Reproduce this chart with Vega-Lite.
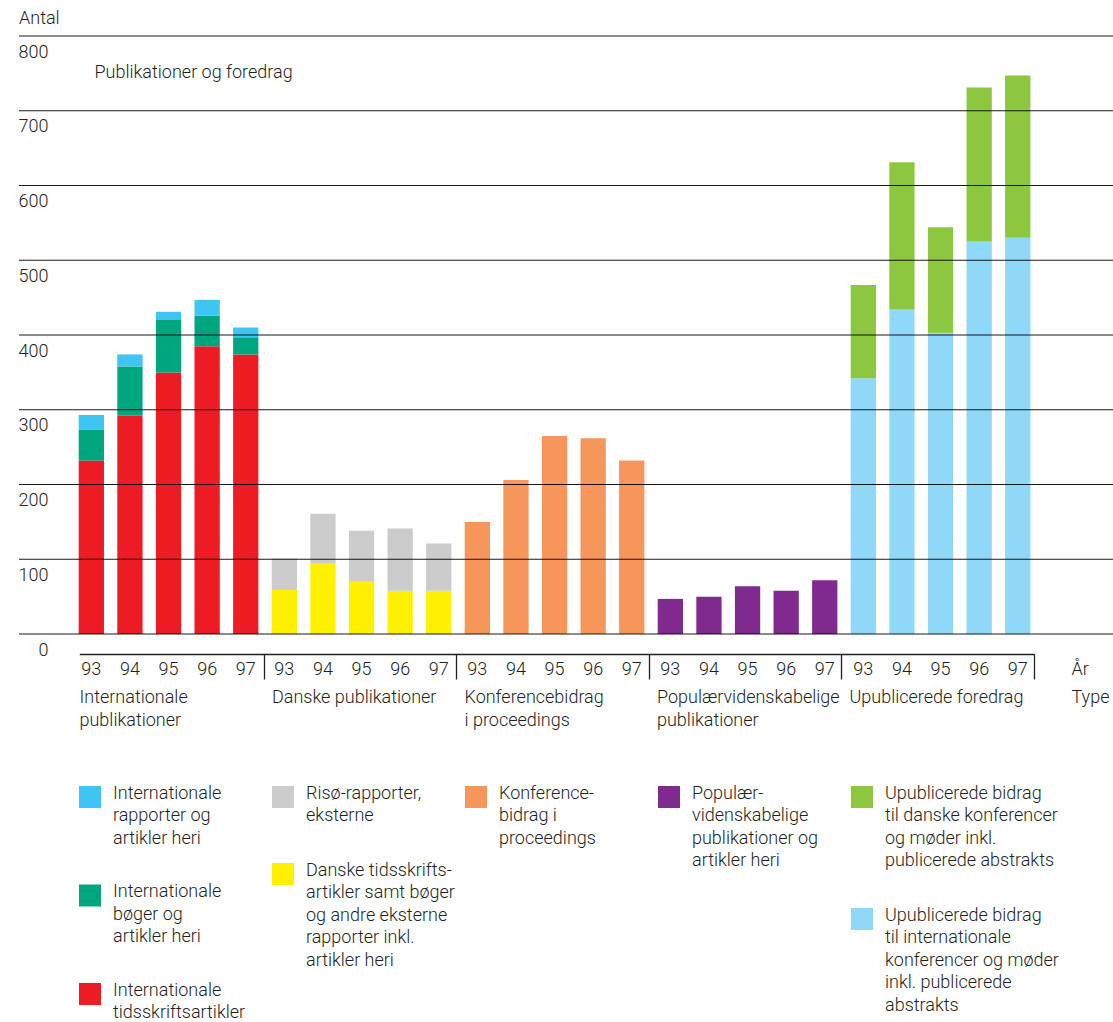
{
  "$schema": "https://vega.github.io/schema/vega-lite/v6.json",
  "padding": {"left": 18, "top": 9, "right": 0, "bottom": 0},
  "bounds": "flush",
  "spacing": 163,
  "config": {
    "font": "Roboto",
    "view": {"stroke": null},
    "axis": {"labelFont": "Roboto", "titleFont": "Roboto", "labelFontSize": 18, "titleFontSize": 18, "labelFontWeight": 300, "titleFontWeight": 300, "labelColor": "#231f20", "titleColor": "#231f20"},
    "text": {"font": "Roboto", "fontSize": 18, "fontWeight": 300, "color": "#231f20"}
  },
  "datasets": {
    "bars": [
      {"gruppe": "Internationale\npublikationer", "aar": "93", "serie": "Internationale tidsskriftsartikler", "nr": 1, "antal": 232},
      {"gruppe": "Internationale\npublikationer", "aar": "93", "serie": "Internationale bøger og artikler heri", "nr": 2, "antal": 41},
      {"gruppe": "Internationale\npublikationer", "aar": "93", "serie": "Internationale rapporter og artikler heri", "nr": 3, "antal": 20},
      {"gruppe": "Internationale\npublikationer", "aar": "94", "serie": "Internationale tidsskriftsartikler", "nr": 1, "antal": 292},
      {"gruppe": "Internationale\npublikationer", "aar": "94", "serie": "Internationale bøger og artikler heri", "nr": 2, "antal": 66},
      {"gruppe": "Internationale\npublikationer", "aar": "94", "serie": "Internationale rapporter og artikler heri", "nr": 3, "antal": 16},
      {"gruppe": "Internationale\npublikationer", "aar": "95", "serie": "Internationale tidsskriftsartikler", "nr": 1, "antal": 350},
      {"gruppe": "Internationale\npublikationer", "aar": "95", "serie": "Internationale bøger og artikler heri", "nr": 2, "antal": 70},
      {"gruppe": "Internationale\npublikationer", "aar": "95", "serie": "Internationale rapporter og artikler heri", "nr": 3, "antal": 11},
      {"gruppe": "Internationale\npublikationer", "aar": "96", "serie": "Internationale tidsskriftsartikler", "nr": 1, "antal": 385},
      {"gruppe": "Internationale\npublikationer", "aar": "96", "serie": "Internationale bøger og artikler heri", "nr": 2, "antal": 41},
      {"gruppe": "Internationale\npublikationer", "aar": "96", "serie": "Internationale rapporter og artikler heri", "nr": 3, "antal": 21},
      {"gruppe": "Internationale\npublikationer", "aar": "97", "serie": "Internationale tidsskriftsartikler", "nr": 1, "antal": 374},
      {"gruppe": "Internationale\npublikationer", "aar": "97", "serie": "Internationale bøger og artikler heri", "nr": 2, "antal": 23},
      {"gruppe": "Internationale\npublikationer", "aar": "97", "serie": "Internationale rapporter og artikler heri", "nr": 3, "antal": 13},
      {"gruppe": "Danske publikationer", "aar": "93", "serie": "Danske tidsskriftsartikler samt bøger og andre eksterne rapporter inkl. artikler heri", "nr": 1, "antal": 59},
      {"gruppe": "Danske publikationer", "aar": "93", "serie": "Risø-rapporter, eksterne", "nr": 2, "antal": 42},
      {"gruppe": "Danske publikationer", "aar": "94", "serie": "Danske tidsskriftsartikler samt bøger og andre eksterne rapporter inkl. artikler heri", "nr": 1, "antal": 95},
      {"gruppe": "Danske publikationer", "aar": "94", "serie": "Risø-rapporter, eksterne", "nr": 2, "antal": 66},
      {"gruppe": "Danske publikationer", "aar": "95", "serie": "Danske tidsskriftsartikler samt bøger og andre eksterne rapporter inkl. artikler heri", "nr": 1, "antal": 70},
      {"gruppe": "Danske publikationer", "aar": "95", "serie": "Risø-rapporter, eksterne", "nr": 2, "antal": 68},
      {"gruppe": "Danske publikationer", "aar": "96", "serie": "Danske tidsskriftsartikler samt bøger og andre eksterne rapporter inkl. artikler heri", "nr": 1, "antal": 58},
      {"gruppe": "Danske publikationer", "aar": "96", "serie": "Risø-rapporter, eksterne", "nr": 2, "antal": 83},
      {"gruppe": "Danske publikationer", "aar": "97", "serie": "Danske tidsskriftsartikler samt bøger og andre eksterne rapporter inkl. artikler heri", "nr": 1, "antal": 58},
      {"gruppe": "Danske publikationer", "aar": "97", "serie": "Risø-rapporter, eksterne", "nr": 2, "antal": 63},
      {"gruppe": "Konferencebidrag\ni proceedings", "aar": "93", "serie": "Konferencebidrag i proceedings", "nr": 1, "antal": 150},
      {"gruppe": "Konferencebidrag\ni proceedings", "aar": "94", "serie": "Konferencebidrag i proceedings", "nr": 1, "antal": 206},
      {"gruppe": "Konferencebidrag\ni proceedings", "aar": "95", "serie": "Konferencebidrag i proceedings", "nr": 1, "antal": 265},
      {"gruppe": "Konferencebidrag\ni proceedings", "aar": "96", "serie": "Konferencebidrag i proceedings", "nr": 1, "antal": 262},
      {"gruppe": "Konferencebidrag\ni proceedings", "aar": "97", "serie": "Konferencebidrag i proceedings", "nr": 1, "antal": 232},
      {"gruppe": "Populærvidenskabelige\npublikationer", "aar": "93", "serie": "Populærvidenskabelige publikationer og artikler heri", "nr": 1, "antal": 47},
      {"gruppe": "Populærvidenskabelige\npublikationer", "aar": "94", "serie": "Populærvidenskabelige publikationer og artikler heri", "nr": 1, "antal": 50},
      {"gruppe": "Populærvidenskabelige\npublikationer", "aar": "95", "serie": "Populærvidenskabelige publikationer og artikler heri", "nr": 1, "antal": 64},
      {"gruppe": "Populærvidenskabelige\npublikationer", "aar": "96", "serie": "Populærvidenskabelige publikationer og artikler heri", "nr": 1, "antal": 58},
      {"gruppe": "Populærvidenskabelige\npublikationer", "aar": "97", "serie": "Populærvidenskabelige publikationer og artikler heri", "nr": 1, "antal": 72},
      {"gruppe": "Upublicerede foredrag", "aar": "93", "serie": "Upublicerede bidrag til internationale konferencer og møder inkl. publicerede abstrakts", "nr": 1, "antal": 342},
      {"gruppe": "Upublicerede foredrag", "aar": "93", "serie": "Upublicerede bidrag til danske konferencer og møder inkl. publicerede abstrakts", "nr": 2, "antal": 125},
      {"gruppe": "Upublicerede foredrag", "aar": "94", "serie": "Upublicerede bidrag til internationale konferencer og møder inkl. publicerede abstrakts", "nr": 1, "antal": 434},
      {"gruppe": "Upublicerede foredrag", "aar": "94", "serie": "Upublicerede bidrag til danske konferencer og møder inkl. publicerede abstrakts", "nr": 2, "antal": 197},
      {"gruppe": "Upublicerede foredrag", "aar": "95", "serie": "Upublicerede bidrag til internationale konferencer og møder inkl. publicerede abstrakts", "nr": 1, "antal": 403},
      {"gruppe": "Upublicerede foredrag", "aar": "95", "serie": "Upublicerede bidrag til danske konferencer og møder inkl. publicerede abstrakts", "nr": 2, "antal": 141},
      {"gruppe": "Upublicerede foredrag", "aar": "96", "serie": "Upublicerede bidrag til internationale konferencer og møder inkl. publicerede abstrakts", "nr": 1, "antal": 525},
      {"gruppe": "Upublicerede foredrag", "aar": "96", "serie": "Upublicerede bidrag til danske konferencer og møder inkl. publicerede abstrakts", "nr": 2, "antal": 206},
      {"gruppe": "Upublicerede foredrag", "aar": "97", "serie": "Upublicerede bidrag til internationale konferencer og møder inkl. publicerede abstrakts", "nr": 1, "antal": 530},
      {"gruppe": "Upublicerede foredrag", "aar": "97", "serie": "Upublicerede bidrag til danske konferencer og møder inkl. publicerede abstrakts", "nr": 2, "antal": 217}
    ],
    "gitter": [
      {"antal": 0}, {"antal": 100}, {"antal": 200}, {"antal": 300}, {"antal": 400}, {"antal": 500}, {"antal": 600}, {"antal": 700}, {"antal": 800}
    ],
    "legend": [
      {"kolonne": 1, "plads": 1, "serie": "Internationale rapporter og artikler heri", "tekst": "Internationale\nrapporter og\nartikler heri"},
      {"kolonne": 1, "plads": 2, "serie": "Internationale bøger og artikler heri", "tekst": "Internationale\nbøger og\nartikler heri"},
      {"kolonne": 1, "plads": 3, "serie": "Internationale tidsskriftsartikler", "tekst": "Internationale\ntidsskriftsartikler"},
      {"kolonne": 2, "plads": 1, "serie": "Risø-rapporter, eksterne", "tekst": "Risø-rapporter,\neksterne"},
      {"kolonne": 2, "plads": 2, "serie": "Danske tidsskriftsartikler samt bøger og andre eksterne rapporter inkl. artikler heri", "tekst": "Danske tidsskrifts-\nartikler samt bøger\nog andre eksterne\nrapporter inkl.\nartikler heri"},
      {"kolonne": 3, "plads": 1, "serie": "Konferencebidrag i proceedings", "tekst": "Konference-\nbidrag i\nproceedings"},
      {"kolonne": 4, "plads": 1, "serie": "Populærvidenskabelige publikationer og artikler heri", "tekst": "Populær-\nvidenskabelige\npublikationer og\nartikler heri"},
      {"kolonne": 5, "plads": 1, "serie": "Upublicerede bidrag til danske konferencer og møder inkl. publicerede abstrakts", "tekst": "Upublicerede bidrag\ntil danske konferencer\nog møder inkl.\npublicerede abstrakts"},
      {"kolonne": 5, "plads": 2, "serie": "Upublicerede bidrag til internationale konferencer og møder inkl. publicerede abstrakts", "tekst": "Upublicerede bidrag\ntil internationale\nkonferencer og møder\ninkl. publicerede\nabstrakts"}
    ]
  },
  "vconcat": [
    {
      "width": 1095,
      "height": 598,
      "title": {"text": "Antal", "anchor": "start", "frame": "group", "offset": -6.2, "baseline": "alphabetic", "fontSize": 18, "fontWeight": 300, "color": "#231f20", "font": "Roboto"},
      "layer": [
        {
          "data": {"name": "bars"},
          "transform": [{"calculate": "datum.gruppe + '|' + datum.aar", "as": "key"}],
          "mark": {"type": "bar"},
          "encoding": {
            "x": {
              "field": "key", "type": "nominal", "sort": null,
              "scale": {"range": [59.7, 1011.4], "paddingInner": 0.345, "paddingOuter": 0, "round": false},
              "axis": {"orient": "bottom", "labelExpr": "split(datum.label, '|')[1]", "domain": false, "ticks": false, "tickSize": 0, "grid": false, "labelAngle": 0, "labelBaseline": "alphabetic", "labelPadding": 40, "labelOverlap": false, "labelLimit": 0, "title": "År", "titleX": 1052, "titleY": 40, "titleAlign": "left", "titleBaseline": "alphabetic", "titleAngle": 0}
            },
            "y": {
              "field": "antal", "type": "quantitative", "stack": "zero",
              "scale": {"domain": [0, 800], "nice": false},
              "axis": {"values": [0, 100, 200, 300, 400, 500, 600, 700, 800], "grid": false, "domain": false, "ticks": false, "tickSize": 0, "labelAlign": "right", "labelBaseline": "middle", "labelPadding": -29, "labelOffset": 16, "labelFlush": false, "labelOverlap": false, "title": "Publikationer og foredrag", "titleAngle": 0, "titleX": 75, "titleY": 36, "titleAlign": "left", "titleBaseline": "middle"}
            },
            "color": {
              "field": "serie", "type": "nominal", "legend": null,
              "scale": {
                "domain": ["Internationale rapporter og artikler heri", "Internationale bøger og artikler heri", "Internationale tidsskriftsartikler", "Risø-rapporter, eksterne", "Danske tidsskriftsartikler samt bøger og andre eksterne rapporter inkl. artikler heri", "Konferencebidrag i proceedings", "Populærvidenskabelige publikationer og artikler heri", "Upublicerede bidrag til danske konferencer og møder inkl. publicerede abstrakts", "Upublicerede bidrag til internationale konferencer og møder inkl. publicerede abstrakts"],
                "range": ["#3fc5f3", "#00a67e", "#ed1c24", "#cccccc", "#fff100", "#f7965a", "#80298f", "#8dc63f", "#8fd8f7"]
              }
            },
            "order": {"field": "nr", "type": "quantitative"}
          }
        },
        {
          "data": {"name": "gitter"},
          "mark": {"type": "rule", "color": "#000000", "strokeWidth": 1.2, "opacity": 0.9},
          "encoding": {"y": {"field": "antal", "type": "quantitative"}}
        },
        {
          "data": {"name": "bars"},
          "mark": {"type": "rule", "opacity": 0},
          "encoding": {
            "x": {
              "field": "gruppe", "type": "nominal", "sort": null,
              "scale": {"range": [60.3, 1015.3], "paddingInner": 0.039, "paddingOuter": 0, "round": false},
              "axis": {"orient": "bottom", "offset": 20, "bandPosition": 1, "domain": true, "domainColor": "#231f20", "domainWidth": 1.3, "ticks": true, "tickColor": "#231f20", "tickWidth": 1.3, "tickSize": 25, "grid": false, "labelExpr": "split(datum.label, '\\n')", "labelAlign": "left", "labelBaseline": "alphabetic", "labelPadding": 23.5, "labelOffset": -92.3, "labelLineHeight": 22.5, "labelAngle": 0, "labelOverlap": false, "labelLimit": 0, "labelBound": false, "labelFlush": false, "title": "Type", "titleX": 1052, "titleY": 48.5, "titleAlign": "left", "titleBaseline": "alphabetic", "titleAngle": 0}
            }
          }
        }
      ],
      "resolve": {"scale": {"x": "independent"}, "axis": {"x": "independent"}}
    },
    {
      "bounds": "flush",
      "spacing": 51,
      "hconcat": [
        {
          "width": 142, "height": 197,
          "data": {"name": "legend"},
          "transform": [{"filter": "datum.kolonne == 1"}],
          "encoding": {"y": {"field": "plads", "type": "ordinal", "scale": {"type": "point", "padding": 0, "align": 0}, "axis": null}},
          "layer": [
            {"mark": {"type": "square", "size": 484, "opacity": 1}, "encoding": {"color": {"field": "serie", "type": "nominal", "legend": null, "scale": {"domain": ["Internationale rapporter og artikler heri", "Internationale bøger og artikler heri", "Internationale tidsskriftsartikler", "Risø-rapporter, eksterne", "Danske tidsskriftsartikler samt bøger og andre eksterne rapporter inkl. artikler heri", "Konferencebidrag i proceedings", "Populærvidenskabelige publikationer og artikler heri", "Upublicerede bidrag til danske konferencer og møder inkl. publicerede abstrakts", "Upublicerede bidrag til internationale konferencer og møder inkl. publicerede abstrakts"], "range": ["#3fc5f3", "#00a67e", "#ed1c24", "#cccccc", "#fff100", "#f7965a", "#80298f", "#8dc63f", "#8fd8f7"]}}}},
            {"mark": {"type": "text", "align": "left", "baseline": "alphabetic", "dx": 23, "dy": 1.5, "lineBreak": "\n", "lineHeight": 22.5}, "encoding": {"text": {"field": "tekst"}}}
          ]
        },
        {
          "width": 142, "height": 77,
          "data": {"name": "legend"},
          "transform": [{"filter": "datum.kolonne == 2"}],
          "encoding": {"y": {"field": "plads", "type": "ordinal", "scale": {"type": "point", "padding": 0, "align": 0}, "axis": null}},
          "layer": [
            {"mark": {"type": "square", "size": 484, "opacity": 1}, "encoding": {"color": {"field": "serie", "type": "nominal", "legend": null, "scale": {"domain": ["Internationale rapporter og artikler heri", "Internationale bøger og artikler heri", "Internationale tidsskriftsartikler", "Risø-rapporter, eksterne", "Danske tidsskriftsartikler samt bøger og andre eksterne rapporter inkl. artikler heri", "Konferencebidrag i proceedings", "Populærvidenskabelige publikationer og artikler heri", "Upublicerede bidrag til danske konferencer og møder inkl. publicerede abstrakts", "Upublicerede bidrag til internationale konferencer og møder inkl. publicerede abstrakts"], "range": ["#3fc5f3", "#00a67e", "#ed1c24", "#cccccc", "#fff100", "#f7965a", "#80298f", "#8dc63f", "#8fd8f7"]}}}},
            {"mark": {"type": "text", "align": "left", "baseline": "alphabetic", "dx": 23, "dy": 1.5, "lineBreak": "\n", "lineHeight": 22.5}, "encoding": {"text": {"field": "tekst"}}}
          ]
        },
        {
          "width": 142, "height": 20,
          "data": {"name": "legend"},
          "transform": [{"filter": "datum.kolonne == 3"}],
          "encoding": {"y": {"field": "plads", "type": "ordinal", "scale": {"type": "point", "padding": 0, "align": 0}, "axis": null}},
          "layer": [
            {"mark": {"type": "square", "size": 484, "opacity": 1}, "encoding": {"color": {"field": "serie", "type": "nominal", "legend": null, "scale": {"domain": ["Internationale rapporter og artikler heri", "Internationale bøger og artikler heri", "Internationale tidsskriftsartikler", "Risø-rapporter, eksterne", "Danske tidsskriftsartikler samt bøger og andre eksterne rapporter inkl. artikler heri", "Konferencebidrag i proceedings", "Populærvidenskabelige publikationer og artikler heri", "Upublicerede bidrag til danske konferencer og møder inkl. publicerede abstrakts", "Upublicerede bidrag til internationale konferencer og møder inkl. publicerede abstrakts"], "range": ["#3fc5f3", "#00a67e", "#ed1c24", "#cccccc", "#fff100", "#f7965a", "#80298f", "#8dc63f", "#8fd8f7"]}}}},
            {"mark": {"type": "text", "align": "left", "baseline": "alphabetic", "dx": 23, "dy": 1.5, "lineBreak": "\n", "lineHeight": 22.5}, "encoding": {"text": {"field": "tekst"}}}
          ]
        },
        {
          "width": 142, "height": 20,
          "data": {"name": "legend"},
          "transform": [{"filter": "datum.kolonne == 4"}],
          "encoding": {"y": {"field": "plads", "type": "ordinal", "scale": {"type": "point", "padding": 0, "align": 0}, "axis": null}},
          "layer": [
            {"mark": {"type": "square", "size": 484, "opacity": 1}, "encoding": {"color": {"field": "serie", "type": "nominal", "legend": null, "scale": {"domain": ["Internationale rapporter og artikler heri", "Internationale bøger og artikler heri", "Internationale tidsskriftsartikler", "Risø-rapporter, eksterne", "Danske tidsskriftsartikler samt bøger og andre eksterne rapporter inkl. artikler heri", "Konferencebidrag i proceedings", "Populærvidenskabelige publikationer og artikler heri", "Upublicerede bidrag til danske konferencer og møder inkl. publicerede abstrakts", "Upublicerede bidrag til internationale konferencer og møder inkl. publicerede abstrakts"], "range": ["#3fc5f3", "#00a67e", "#ed1c24", "#cccccc", "#fff100", "#f7965a", "#80298f", "#8dc63f", "#8fd8f7"]}}}},
            {"mark": {"type": "text", "align": "left", "baseline": "alphabetic", "dx": 23, "dy": 1.5, "lineBreak": "\n", "lineHeight": 22.5}, "encoding": {"text": {"field": "tekst"}}}
          ]
        },
        {
          "width": 142, "height": 122,
          "data": {"name": "legend"},
          "transform": [{"filter": "datum.kolonne == 5"}],
          "encoding": {"y": {"field": "plads", "type": "ordinal", "scale": {"type": "point", "padding": 0, "align": 0}, "axis": null}},
          "layer": [
            {"mark": {"type": "square", "size": 484, "opacity": 1}, "encoding": {"color": {"field": "serie", "type": "nominal", "legend": null, "scale": {"domain": ["Internationale rapporter og artikler heri", "Internationale bøger og artikler heri", "Internationale tidsskriftsartikler", "Risø-rapporter, eksterne", "Danske tidsskriftsartikler samt bøger og andre eksterne rapporter inkl. artikler heri", "Konferencebidrag i proceedings", "Populærvidenskabelige publikationer og artikler heri", "Upublicerede bidrag til danske konferencer og møder inkl. publicerede abstrakts", "Upublicerede bidrag til internationale konferencer og møder inkl. publicerede abstrakts"], "range": ["#3fc5f3", "#00a67e", "#ed1c24", "#cccccc", "#fff100", "#f7965a", "#80298f", "#8dc63f", "#8fd8f7"]}}}},
            {"mark": {"type": "text", "align": "left", "baseline": "alphabetic", "dx": 23, "dy": 1.5, "lineBreak": "\n", "lineHeight": 22.5}, "encoding": {"text": {"field": "tekst"}}}
          ]
        }
      ]
    }
  ]
}
